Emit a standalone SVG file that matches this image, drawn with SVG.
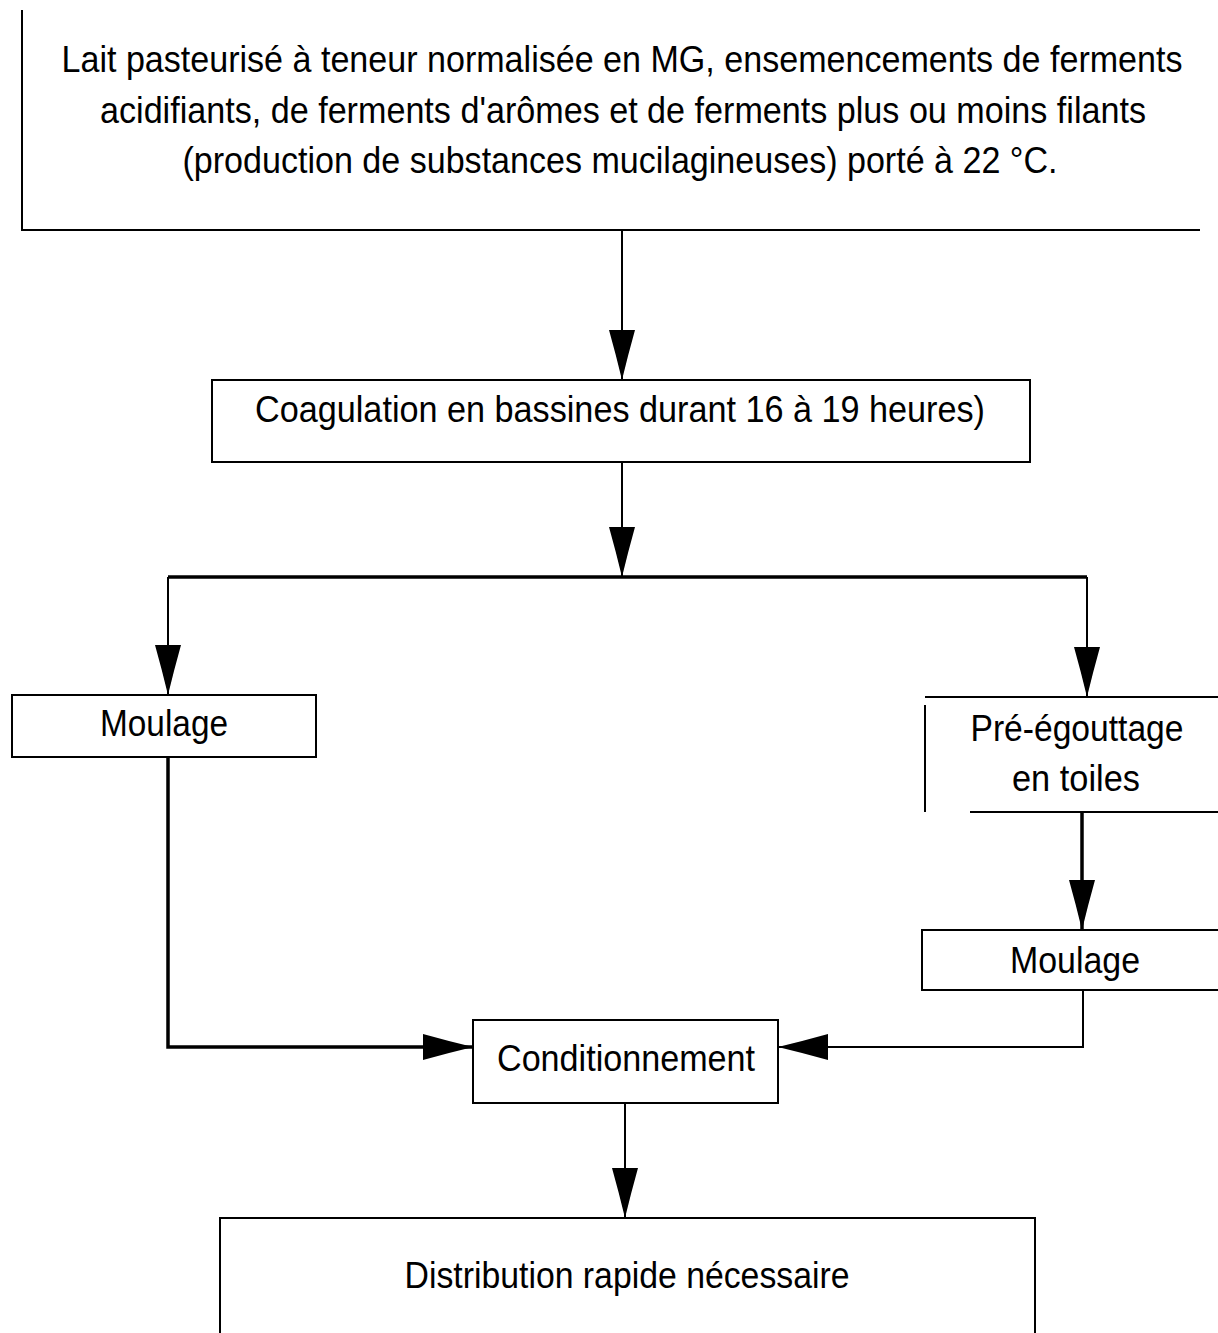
<svg xmlns="http://www.w3.org/2000/svg" width="1218" height="1333" viewBox="0 0 1218 1333">
<style>
.box{fill:none;stroke:#000;stroke-width:2}
.ln{fill:none;stroke:#000;stroke-width:2}
.thick{fill:none;stroke:#000;stroke-width:3.5}
.t{font-family:"Liberation Sans",Arial,sans-serif;font-size:36px;fill:#000;text-anchor:middle}
</style>
<defs>
<marker id="ah" viewBox="0 0 50 26" refX="50" refY="13" markerWidth="50" markerHeight="26" markerUnits="userSpaceOnUse" orient="auto">
<path d="M0,0 Q25,7 50,13 Q25,19 0,26 Z" fill="#000"/>
</marker>
</defs>
<rect width="1218" height="1333" fill="#fff"/>
<g id="n_lait">
<path class="box" d="M22,10 V230 H1200"/>
<text class="t" x="622" y="72" textLength="1121" lengthAdjust="spacingAndGlyphs">Lait pasteurisé à teneur normalisée en MG, ensemencements de ferments</text>
<text class="t" x="623" y="123" textLength="1046" lengthAdjust="spacingAndGlyphs">acidifiants, de ferments d'arômes et de ferments plus ou moins filants</text>
<text class="t" x="620" y="173" textLength="875" lengthAdjust="spacingAndGlyphs">(production de substances mucilagineuses) porté à 22 °C.</text>
</g>
<g id="n_coag">
<rect class="box" x="212" y="380" width="818" height="82"/>
<text class="t" x="620" y="422" textLength="730" lengthAdjust="spacingAndGlyphs">Coagulation en bassines durant 16 à 19 heures)</text>
</g>
<g id="n_moulage1">
<rect class="box" x="12" y="695" width="304" height="62"/>
<text class="t" x="164" y="736" textLength="128" lengthAdjust="spacingAndGlyphs">Moulage</text>
</g>
<g id="n_pre">
<path class="box" d="M925,697 H1218 M925,705 V812 M970,812 H1218"/>
<text class="t" x="1077" y="741" textLength="213" lengthAdjust="spacingAndGlyphs">Pré-égouttage</text>
<text class="t" x="1076" y="791" textLength="128" lengthAdjust="spacingAndGlyphs">en toiles</text>
</g>
<g id="n_moulage2">
<path class="box" d="M1218,930 H922 V990 H1218"/>
<text class="t" x="1075" y="973" textLength="130" lengthAdjust="spacingAndGlyphs">Moulage</text>
</g>
<g id="n_cond">
<rect class="box" x="473" y="1020" width="305" height="83"/>
<text class="t" x="626" y="1071" textLength="258" lengthAdjust="spacingAndGlyphs">Conditionnement</text>
</g>
<g id="n_distrib">
<path class="box" d="M220,1333 V1218 H1035 V1333"/>
<text class="t" x="627" y="1288" textLength="445" lengthAdjust="spacingAndGlyphs">Distribution rapide nécessaire</text>
</g>
<g id="connectors">
<path class="ln" d="M622,230 V380" marker-end="url(#ah)"/>
<path class="ln" d="M622,462 V577" marker-end="url(#ah)"/>
<path class="thick" d="M168,577 H1087"/>
<path class="ln" d="M168,577 V695" marker-end="url(#ah)"/>
<path class="ln" d="M1087,577 V697" marker-end="url(#ah)"/>
<path class="thick" d="M1082,812 V930" marker-end="url(#ah)"/>
<path class="thick" d="M168,757 V1047 H473" marker-end="url(#ah)"/>
<path class="ln" d="M1083,990 V1047 H778" marker-end="url(#ah)"/>
<path class="ln" d="M625,1103 V1218" marker-end="url(#ah)"/>
</g>
</svg>
